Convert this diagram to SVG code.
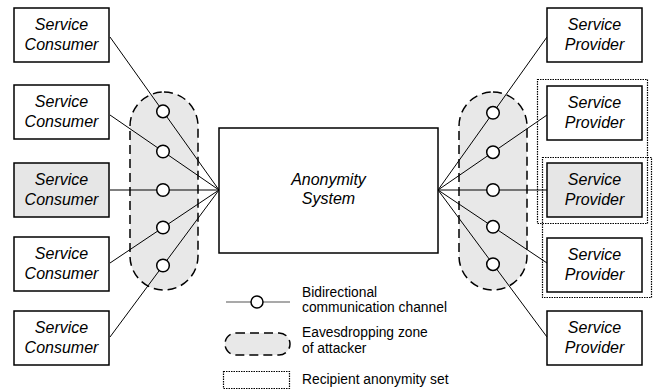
<svg xmlns="http://www.w3.org/2000/svg" width="657" height="392" viewBox="0 0 657 392">
<style>
.box{fill:#fff;stroke:#000;stroke-width:1.5}
.sh{fill:#e6e6e6}
.lbl{font-family:"Liberation Sans",Arial,sans-serif;font-style:italic;font-size:16px;text-anchor:middle;fill:#000}
.leg{font-family:"Liberation Sans",Arial,sans-serif;font-size:13.8px;fill:#000}
.zone{fill:#e8e8e8;stroke:#000;stroke-width:1.5;stroke-dasharray:9 5}
.dot{fill:none;stroke:#000;stroke-width:1.2;stroke-dasharray:1.5 1}
.ln{stroke:#000;stroke-width:1;fill:none}
.ch{fill:#fff;stroke:#000;stroke-width:1.5}
</style>
<g id="zones">
<rect class="zone" x="130" y="92" width="68" height="198" rx="34"/>
<rect class="zone" x="459" y="92" width="68" height="198" rx="34"/>
</g>
<g id="anonymity-sets">
<rect class="dot" x="537.5" y="79.5" width="110" height="144"/>
<rect class="dot" x="542.5" y="157.5" width="109" height="140"/>
</g>
<g id="connectors">
<line class="ln" x1="110" y1="37" x2="219" y2="190"/>
<line class="ln" x1="110" y1="115" x2="219" y2="190"/>
<line class="ln" x1="110" y1="190" x2="219" y2="190"/>
<line class="ln" x1="110" y1="263" x2="219" y2="190"/>
<line class="ln" x1="110" y1="337" x2="219" y2="190"/>
<line class="ln" x1="547" y1="37" x2="438" y2="190"/>
<line class="ln" x1="547" y1="115" x2="438" y2="190"/>
<line class="ln" x1="547" y1="190" x2="438" y2="190"/>
<line class="ln" x1="547" y1="263" x2="438" y2="190"/>
<line class="ln" x1="547" y1="337" x2="438" y2="190"/>
<circle class="ch" cx="163" cy="111.4" r="6.3"/>
<circle class="ch" cx="163" cy="151.5" r="6.3"/>
<circle class="ch" cx="163" cy="190" r="6.3"/>
<circle class="ch" cx="163" cy="227.5" r="6.3"/>
<circle class="ch" cx="163" cy="265.5" r="6.3"/>
<circle class="ch" cx="493" cy="112.8" r="6.3"/>
<circle class="ch" cx="493" cy="152.2" r="6.3"/>
<circle class="ch" cx="493" cy="190" r="6.3"/>
<circle class="ch" cx="493" cy="226.8" r="6.3"/>
<circle class="ch" cx="493" cy="264.2" r="6.3"/>
</g>
<g id="consumer1"><rect class="box" x="14" y="8" width="95" height="54"/><text class="lbl" x="61.5" y="30">Service</text><text class="lbl" x="61.5" y="50">Consumer</text></g>
<g id="consumer2"><rect class="box" x="14" y="85" width="95" height="54"/><text class="lbl" x="61.5" y="107">Service</text><text class="lbl" x="61.5" y="127">Consumer</text></g>
<g id="consumer3"><rect class="box sh" x="14" y="163" width="95" height="54"/><text class="lbl" x="61.5" y="185">Service</text><text class="lbl" x="61.5" y="205">Consumer</text></g>
<g id="consumer4"><rect class="box" x="14" y="237" width="95" height="54"/><text class="lbl" x="61.5" y="259">Service</text><text class="lbl" x="61.5" y="279">Consumer</text></g>
<g id="consumer5"><rect class="box" x="14" y="311" width="95" height="54"/><text class="lbl" x="61.5" y="333">Service</text><text class="lbl" x="61.5" y="353">Consumer</text></g>
<g id="provider1"><rect class="box" x="547" y="8" width="95" height="54"/><text class="lbl" x="594.5" y="30">Service</text><text class="lbl" x="594.5" y="50">Provider</text></g>
<g id="provider2"><rect class="box" x="547" y="86" width="95" height="54"/><text class="lbl" x="594.5" y="108">Service</text><text class="lbl" x="594.5" y="128">Provider</text></g>
<g id="provider3"><rect class="box sh" x="547" y="163" width="95" height="54"/><text class="lbl" x="594.5" y="185">Service</text><text class="lbl" x="594.5" y="205">Provider</text></g>
<g id="provider4"><rect class="box" x="547" y="238" width="95" height="54"/><text class="lbl" x="594.5" y="260">Service</text><text class="lbl" x="594.5" y="280">Provider</text></g>
<g id="provider5"><rect class="box" x="547" y="311" width="95" height="54"/><text class="lbl" x="594.5" y="333">Service</text><text class="lbl" x="594.5" y="353">Provider</text></g>
<g id="anonymity-system"><rect class="box" x="219" y="128" width="219" height="125"/><text class="lbl" x="328.5" y="185">Anonymity</text><text class="lbl" x="328.5" y="204">System</text></g>
<g id="legend">
<line x1="226" y1="302" x2="290" y2="302" stroke="#555" stroke-width="1.2"/>
<circle class="ch" cx="257" cy="302" r="6"/>
<text class="leg" x="302" y="297">Bidirectional</text>
<text class="leg" x="302" y="312">communication channel</text>
<rect class="zone" x="225" y="333" width="65" height="22" rx="11"/>
<text class="leg" x="302" y="337">Eavesdropping zone</text>
<text class="leg" x="302" y="353">of attacker</text>
<rect class="dot" x="223.5" y="371.5" width="66" height="17"/>
<text class="leg" x="302" y="384">Recipient anonymity set</text>
</g>
</svg>
